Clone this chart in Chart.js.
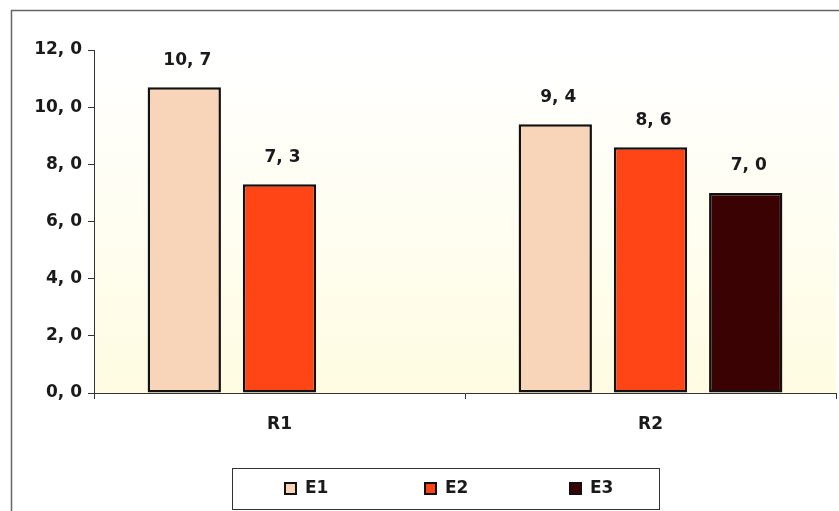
<!DOCTYPE html>
<html>
<head>
<meta charset="utf-8">
<title>E1 / E2 / E3 by R</title>
<script src="https://cdn.jsdelivr.net/npm/chart.js@4.4.1/dist/chart.umd.min.js"></script>
<style>
  html, body { margin: 0; padding: 0; background: #ffffff; }
  #wrap { width: 839px; height: 511px; }
</style>
</head>
<body>
<div id="wrap"><canvas id="chart" width="839" height="511"></canvas></div>
<script>
// Categories and series values
const categories = ['R1', 'R2'];
const seriesNames = ['E1', 'E2', 'E3'];
const e1Values = [10.7, 9.4];
const e2Values = [7.3, 8.6];
const e3Values = [null, 7.0];
const yTicks = [0, 2, 4, 6, 8, 10, 12];

const colors = {
  E1: '#f8d4b8',
  E2: '#ff4516',
  E3: '#3a0202'
};

const FONT = { family: '"DejaVu Sans", "Liberation Sans", Arial, sans-serif', size: 17, weight: 'bold' };
const FONT_CSS = `bold ${FONT.size}px ${FONT.family}`;
const fmt = v => v.toFixed(1).replace('.', ', ');

// Frame around the whole figure, plot-area wash, value labels and boxed legend
const decor = {
  id: 'decor',
  beforeDraw(chart) {
    const { ctx, chartArea: a } = chart;
    ctx.save();
    const g = ctx.createLinearGradient(0, a.top, 0, a.bottom);
    g.addColorStop(0, '#ffffff');
    g.addColorStop(1, '#fffce2');
    ctx.fillStyle = g;
    ctx.fillRect(a.left, a.top, a.right - a.left, a.bottom - a.top);
    ctx.strokeStyle = '#666666';
    ctx.lineWidth = 1.5;
    ctx.strokeRect(11.5, 10.5, 850, 520);
    ctx.restore();
  },
  afterDatasetsDraw(chart) {
    const { ctx } = chart;
    ctx.save();
    ctx.font = FONT_CSS;
    ctx.fillStyle = '#1a1a1a';
    ctx.textAlign = 'center';
    ctx.textBaseline = 'middle';
    chart.data.datasets.forEach((ds, i) => {
      chart.getDatasetMeta(i).data.forEach((bar, j) => {
        const v = ds.data[j];
        if (v === null || v === undefined) return;
        ctx.fillText(fmt(v), bar.x + 3, bar.y - 27);
      });
    });
    ctx.restore();
  },
  afterDraw(chart) {
    const { ctx } = chart;
    ctx.save();
    // legend box
    ctx.strokeStyle = '#333333';
    ctx.lineWidth = 1;
    ctx.strokeRect(232.5, 468.5, 427, 41);
    ctx.font = FONT_CSS;
    ctx.textAlign = 'left';
    ctx.textBaseline = 'middle';
    const itemX = [284, 424, 569];
    chart.data.datasets.forEach((ds, i) => {
      const x = itemX[i];
      ctx.fillStyle = ds.backgroundColor;
      ctx.fillRect(x, 482, 12, 12);
      ctx.strokeStyle = '#111111';
      ctx.lineWidth = 2;
      ctx.strokeRect(x + 1, 483, 11, 11);
      ctx.fillStyle = '#1a1a1a';
      ctx.fillText(ds.label, x + 21, 489);
    });
    ctx.restore();
  }
};

const makeSet = (label, data) => ({
  label,
  data,
  backgroundColor: colors[label],
  borderColor: '#111111',
  borderWidth: 2.5,
  borderSkipped: false,
  categoryPercentage: 0.77,
  barPercentage: 0.77
});

new Chart(document.getElementById('chart'), {
  type: 'bar',
  data: {
    labels: categories,
    datasets: [
      makeSet(seriesNames[0], e1Values),
      makeSet(seriesNames[1], e2Values),
      makeSet(seriesNames[2], e3Values)
    ]
  },
  options: {
    responsive: false,
    animation: false,
    devicePixelRatio: 1,
    layout: { padding: { left: 0, right: 3, top: 50, bottom: 0 } },
    plugins: {
      legend: { display: false },
      tooltip: { enabled: false }
    },
    scales: {
      x: {
        offset: true,
        grid: { display: true, offset: true, drawOnChartArea: false, drawTicks: true, tickLength: 6, color: '#333333' },
        border: { display: true, color: '#333333', width: 1 },
        ticks: { color: '#1a1a1a', font: FONT, padding: 15 },
        afterFit(scale) { scale.height = 118; }
      },
      y: {
        min: 0,
        max: 12,
        afterBuildTicks(scale) { scale.ticks = yTicks.map(v => ({ value: v })); },
        grid: { display: true, drawOnChartArea: false, drawTicks: true, tickLength: 6, color: '#333333' },
        border: { display: true, color: '#333333', width: 1 },
        ticks: { color: '#1a1a1a', font: FONT, padding: 6, callback: v => fmt(v) },
        afterFit(scale) { scale.width = 94; }
      }
    }
  },
  plugins: [decor]
});
</script>
</body>
</html>
